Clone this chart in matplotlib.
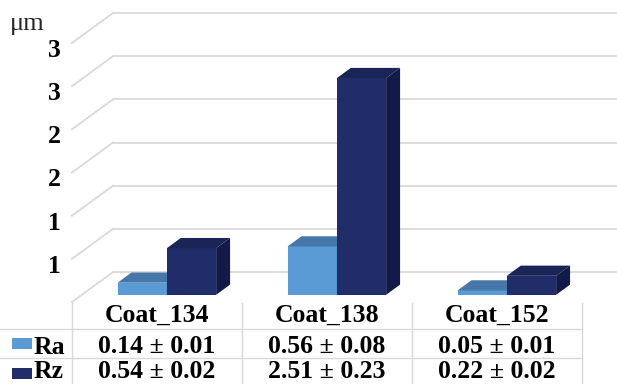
import math
import matplotlib
matplotlib.use("Agg")
import matplotlib.pyplot as plt
from matplotlib.patches import Polygon, Rectangle
from matplotlib.transforms import blended_transform_factory, ScaledTranslation

# ---- data -------------------------------------------------------------
categories = ["Coat_134", "Coat_138", "Coat_152"]
series_names = ["Ra", "Rz"]
ra_mean = [0.14, 0.56, 0.05]
ra_sd = [0.01, 0.08, 0.01]
rz_mean = [0.54, 2.51, 0.22]
rz_sd = [0.02, 0.23, 0.02]
y_ticks = [0.5, 1.0, 1.5, 2.0, 2.5, 3.0]
unit_label = "μm"

# ---- styling ----------------------------------------------------------
W, H, DPI = 617, 384, 100
SERIF = ["Liberation Serif", "DejaVu Serif"]
FS = 18.5
GRID = "#d9d9d9"
RA_FRONT, RA_TOP, RA_SIDE = "#5b9bd5", "#4577a8", "#3d6a96"
RZ_FRONT, RZ_TOP, RZ_SIDE = "#212d69", "#1a2457", "#121a48"

fig = plt.figure(figsize=(W / DPI, H / DPI), dpi=DPI)
fig.patch.set_facecolor("white")

# front plane of the 3-D box: x 72..582 px, value 0 at y=302 px, value 3 at y=43 px
ax = fig.add_axes([72 / W, 1 - 302 / H, 510 / W, 259 / H])
ax.set_xlim(-0.5, 2.5)
ax.set_ylim(0, 3.0)
ax.set_facecolor("none")
for s in ax.spines.values():
    s.set_visible(False)
ax.set_xticks([])
ax.set_yticks([])

# oblique depth of the box, in data units
px_x = 3.0 / 510
px_y = 3.0 / 259
DX, DY = 41 * px_x, 30 * px_y

# back wall and left wall gridlines
for v in [0.0] + y_ticks:
    ax.plot([-0.5 + DX, 2.5 + DX + 0.2], [v + DY, v + DY], color=GRID, lw=1.3,
            clip_on=False, zorder=0, solid_capstyle="butt")
    ax.plot([-0.5, -0.5 + DX], [v, v + DY], color=GRID, lw=1.3,
            clip_on=False, zorder=0)

# 3-D columns
F, G, BW = 0.24, 0.34, 0.29
ox, oy = F * DX, F * DY
bdx, bdy = G * DX, G * DY


def draw_columns(values, left_shift, front, top, side, z):
    xs = [i + ox + left_shift for i in range(len(values))]
    ax.bar(xs, values, width=BW, bottom=oy, align="edge", color=front,
           linewidth=0, clip_on=False, zorder=z)
    for x0, h in zip(xs, values):
        y1 = oy + h
        ax.add_patch(Polygon([(x0, y1), (x0 + BW, y1), (x0 + BW + bdx, y1 + bdy),
                              (x0 + bdx, y1 + bdy)], closed=True, color=top,
                             lw=0, clip_on=False, zorder=z))
        ax.add_patch(Polygon([(x0 + BW, oy), (x0 + BW + bdx, oy + bdy),
                              (x0 + BW + bdx, y1 + bdy), (x0 + BW, y1)],
                             closed=True, color=side, lw=0, clip_on=False,
                             zorder=z))


draw_columns(ra_mean, -BW, RA_FRONT, RA_TOP, RA_SIDE, 2)
draw_columns(rz_mean, 0.0, RZ_FRONT, RZ_TOP, RZ_SIDE, 3)

# value-axis labels (whole numbers, halves rounded up)
tick_tr = blended_transform_factory(ax.transAxes, ax.transData) + \
    ScaledTranslation(-11 / DPI, -14 / DPI, fig.dpi_scale_trans)
for v in y_ticks:
    ax.text(0, v, str(int(math.floor(v + 0.5))), transform=tick_tr,
            ha="right", va="baseline", fontsize=FS, fontweight="bold",
            family=SERIF, color="black")

fig.text(10 / W, 1 - 30 / H, unit_label, ha="left", va="baseline",
         fontsize=FS + 0.5, family=SERIF, color="#262626")

# ---- data table under the plot ---------------------------------------
tab_tr = blended_transform_factory(ax.transData, fig.transFigure)
col_edges = [-0.5, 0.5, 1.5, 2.5]
table_top, row_lines, table_bottom = 303, [329, 358], 384

for xe in col_edges:
    ax.plot([xe, xe], [1 - table_top / H, 1 - table_bottom / H], color=GRID,
            lw=1.0, transform=tab_tr, clip_on=False, zorder=0)
for yl in row_lines:
    fig.add_artist(plt.Line2D([0, 582 / W], [1 - yl / H, 1 - yl / H],
                              color=GRID, lw=1.0, transform=fig.transFigure))

rows = [
    (322, categories),
    (353, [f"{m:.2f} ± {s:.2f}" for m, s in zip(ra_mean, ra_sd)]),
    (378.5, [f"{m:.2f} ± {s:.2f}" for m, s in zip(rz_mean, rz_sd)]),
]
for base, texts in rows:
    for i, t in enumerate(texts):
        ax.text(i, 1 - base / H, t, transform=tab_tr, ha="center",
                va="baseline", fontsize=FS, fontweight="bold", family=SERIF,
                color="black", clip_on=False)

# legend keys in the table's row headers
for name, color, key_top, base in [("Ra", RA_FRONT, 338, 354),
                                   ("Rz", RZ_FRONT, 368, 378.5)]:
    fig.add_artist(Rectangle((12 / W, 1 - (key_top + 11) / H), 20 / W, 11 / H,
                             transform=fig.transFigure, color=color, lw=0))
    fig.text(34 / W, 1 - base / H, name, ha="left", va="baseline",
             fontsize=FS, fontweight="bold", family=SERIF, color="black")

fig.savefig("out.png", dpi=DPI, facecolor="white")
